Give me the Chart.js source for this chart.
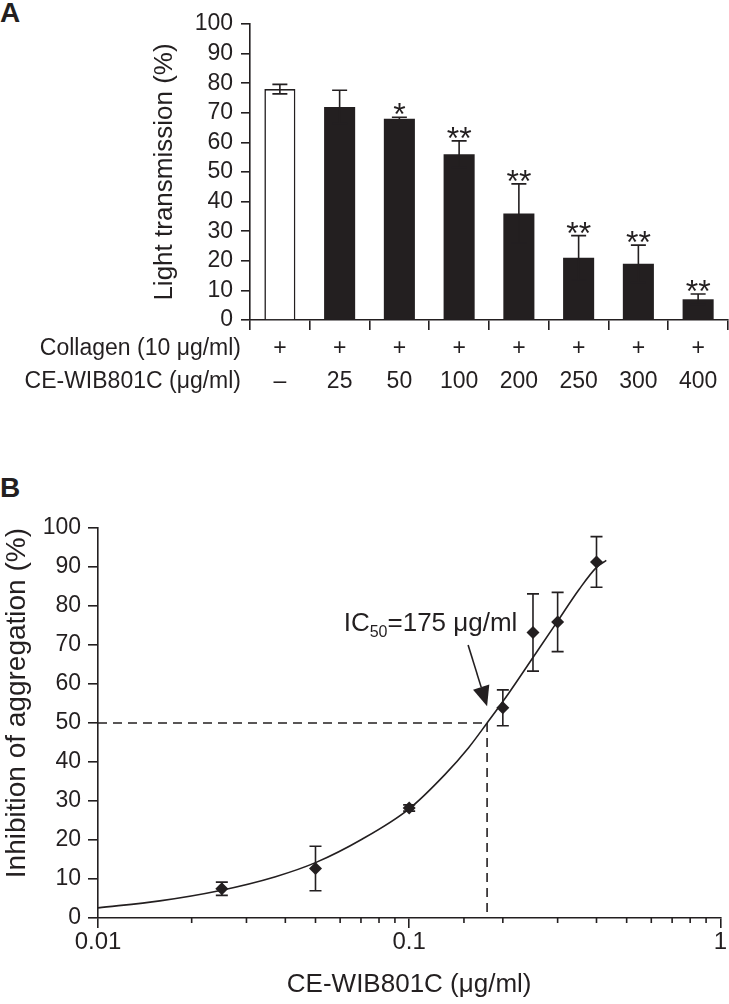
<!DOCTYPE html>
<html><head><meta charset="utf-8">
<script src="https://cdn.jsdelivr.net/npm/chart.js@4/dist/chart.umd.min.js"></script>
<style>
html,body{margin:0;padding:0;background:#fff;width:729px;height:1004px;overflow:hidden}
canvas{position:absolute;left:0}
#a{top:0}
#b{top:440px}
.panel{position:absolute;left:0;font:bold 28px 'Liberation Sans',Arial,sans-serif;color:#231f20}
</style></head><body>
<div class="panel" style="top:-3px">A</div>
<div class="panel" style="top:472px">B</div>
<canvas id="a" width="729" height="410"></canvas>
<canvas id="b" width="729" height="564"></canvas>
<script>
const FONT = "'Liberation Sans', Arial, sans-serif";
const INK = '#231f20';

// ---- Panel A data ----
const collagenRow = ['+', '+', '+', '+', '+', '+', '+', '+'];
const doseRow = ['\u2013', '25', '50', '100', '200', '250', '300', '400'];
const transmission = [78, 72, 68, 56, 36, 21, 19, 7];
const transmissionErr = [1.6, 5.6, 0.5, 4.5, 10, 7.5, 6.3, 1.8];
const significance = ['', '', '*', '**', '**', '**', '**', '**'];
const rowTitles = ['Collagen (10 \u03bcg/ml)', 'CE-WIB801C (\u03bcg/ml)'];
const yTicksA = [0, 100, 10];

// ---- Panel B data ----
const doseB = [0.025, 0.05, 0.1, 0.2, 0.25, 0.3, 0.4];
const inhibition = [7.5, 12.7, 28.2, 53.9, 73.2, 75.9, 91.3];
const inhibitionErr = [1.7, 5.7, 0.8, 4.6, 9.9, 7.6, 6.5];
const curveX = [0.01, 0.0158, 0.0245, 0.0372, 0.05, 0.0705, 0.1, 0.13, 0.155, 0.178, 0.21, 0.25, 0.297, 0.352, 0.4, 0.43];
const curveY = [2.6, 4.4, 7.0, 10.6, 14.2, 20.2, 28.0, 36.7, 43.6, 50, 57.9, 66.8, 75.6, 84.3, 89.9, 91.7];
const ic50 = 0.178;
const ic50Level = 50;
const ic50Text = ['IC', '50', '=175 \u03bcg/ml'];
const arrowFrom = [0.1547, 70];
const arrowTo = [0.178, 54.3];
const textAnchor = [0.0616, 73.5];

Chart.defaults.font.family = FONT;
Chart.defaults.color = INK;
Chart.defaults.animation = false;

// ---------- Chart A ----------
const errorBarsA = {
  id: 'errorBarsA',
  afterDatasetsDraw(chart) {
    const ctx = chart.ctx, ys = chart.scales.y;
    const meta = chart.getDatasetMeta(0);
    ctx.save();
    ctx.strokeStyle = INK; ctx.lineWidth = 1.6; ctx.fillStyle = INK;
    meta.data.forEach((bar, i) => {
      const x = bar.x;
      const yt = ys.getPixelForValue(transmission[i] + transmissionErr[i]);
      const yb = ys.getPixelForValue(transmission[i] - transmissionErr[i]);
      ctx.beginPath();
      ctx.moveTo(x, yt); ctx.lineTo(x, yb);
      ctx.moveTo(x - 7.5, yt); ctx.lineTo(x + 7.5, yt);
      ctx.moveTo(x - 7.5, yb); ctx.lineTo(x + 7.5, yb);
      ctx.stroke();
      const s = significance[i];
      if (s) {
        ctx.font = '32px ' + FONT;
        ctx.textAlign = 'center'; ctx.textBaseline = 'alphabetic';
        const n = s.length;
        for (let k = 0; k < n; k++) {
          const dx = (k - (n - 1) / 2) * 12.5;
          ctx.fillText('*', x + dx, yt + 8);
        }
      }
    });
    // row titles
    const xs = chart.scales.x;
    ctx.font = '23px ' + FONT;
    ctx.textAlign = 'right'; ctx.textBaseline = 'middle';
    const y0 = xs.top + 10 + 2 + 16.5;
    rowTitles.forEach((t, r) => ctx.fillText(t, 241, y0 + r * 33));
    ctx.restore();
  }
};

new Chart(document.getElementById('a'), {
  type: 'bar',
  data: {
    labels: collagenRow.map((c, i) => [c, doseRow[i]]),
    datasets: [{
      data: transmission,
      backgroundColor: transmission.map((v, i) => i === 0 ? '#ffffff' : INK),
      borderColor: INK,
      borderWidth: transmission.map((v, i) => i === 0 ? 1.6 : 0),
      categoryPercentage: 1,
      barPercentage: 0.52
    }]
  },
  options: {
    responsive: false,
    layout: { padding: { left: 0, right: 1, top: 24, bottom: 0 } },
    plugins: { legend: { display: false }, tooltip: { enabled: false } },
    scales: {
      x: {
        grid: { drawOnChartArea: false, drawTicks: true, tickLength: 10, color: INK, lineWidth: 1.6 },
        border: { display: true, color: INK, width: 1.6 },
        ticks: { font: { size: 23, lineHeight: 1.435 }, padding: 2, maxRotation: 0, autoSkip: false, color: INK },
        afterFit: s => { s.height = 90; }
      },
      y: {
        min: yTicksA[0], max: yTicksA[1],
        grid: { drawOnChartArea: false, drawTicks: true, tickLength: 9, color: INK, lineWidth: 1.6 },
        border: { display: true, color: INK, width: 1.6 },
        ticks: { stepSize: yTicksA[2], autoSkip: false, font: { size: 23, lineHeight: 1.0 }, padding: 8, color: INK },
        title: { display: true, text: 'Light transmission (%)', font: { size: 26, lineHeight: 1.2 }, padding: { top: 149, bottom: 0 }, color: INK },
        afterFit: s => { s.width = 250; }
      }
    }
  },
  plugins: [errorBarsA]
});

// ---------- Chart B ----------
const isPow10 = v => { const l = Math.log10(v); return Math.abs(l - Math.round(l)) < 1e-6; };

const extrasB = {
  id: 'extrasB',
  afterDatasetsDraw(chart) {
    const ctx = chart.ctx, xs = chart.scales.x, ys = chart.scales.y;
    ctx.save();
    ctx.strokeStyle = INK; ctx.fillStyle = INK; ctx.lineWidth = 1.6;
    // error bars
    doseB.forEach((d, i) => {
      const x = xs.getPixelForValue(d);
      const yt = ys.getPixelForValue(inhibition[i] + inhibitionErr[i]);
      const yb = ys.getPixelForValue(inhibition[i] - inhibitionErr[i]);
      ctx.beginPath();
      ctx.moveTo(x, yt); ctx.lineTo(x, yb);
      ctx.moveTo(x - 6, yt); ctx.lineTo(x + 6, yt);
      ctx.moveTo(x - 6, yb); ctx.lineTo(x + 6, yb);
      ctx.stroke();
    });
    // minor tick marks
    ctx.beginPath();
    xs.ticks.forEach(t => {
      if (!isPow10(t.value)) {
        const x = xs.getPixelForValue(t.value);
        ctx.moveTo(x, xs.top); ctx.lineTo(x, xs.top + 5);
      }
    });
    ctx.stroke();
    // arrow
    const ax = xs.getPixelForValue(arrowFrom[0]), ay = ys.getPixelForValue(arrowFrom[1]);
    const bx = xs.getPixelForValue(arrowTo[0]), by = ys.getPixelForValue(arrowTo[1]);
    const ang = Math.atan2(by - ay, bx - ax);
    const hl = 20, hw = 8.5;
    const hx = bx - hl * Math.cos(ang), hy = by - hl * Math.sin(ang);
    ctx.beginPath(); ctx.moveTo(ax, ay); ctx.lineTo(hx, hy); ctx.stroke();
    ctx.beginPath();
    ctx.moveTo(bx, by);
    ctx.lineTo(hx + hw * Math.sin(ang), hy - hw * Math.cos(ang));
    ctx.lineTo(hx - hw * Math.sin(ang), hy + hw * Math.cos(ang));
    ctx.closePath(); ctx.fill();
    // IC50 text
    let tx = xs.getPixelForValue(textAnchor[0]);
    const ty = ys.getPixelForValue(textAnchor[1]);
    ctx.textAlign = 'left'; ctx.textBaseline = 'alphabetic';
    ctx.font = '26px ' + FONT;
    ctx.fillText(ic50Text[0], tx, ty); tx += ctx.measureText(ic50Text[0]).width;
    ctx.font = '16px ' + FONT;
    ctx.fillText(ic50Text[1], tx, ty + 6); tx += ctx.measureText(ic50Text[1]).width;
    ctx.font = '26px ' + FONT;
    ctx.fillText(ic50Text[2], tx, ty);
    ctx.restore();
  }
};

new Chart(document.getElementById('b'), {
  type: 'scatter',
  data: {
    datasets: [
      {
        type: 'line',
        data: curveX.map((x, i) => ({ x, y: curveY[i] })),
        borderColor: INK, borderWidth: 1.6, pointRadius: 0,
        cubicInterpolationMode: 'monotone', fill: false
      },
      {
        type: 'line',
        data: [{ x: 0.01, y: ic50Level }, { x: ic50, y: ic50Level }],
        borderColor: INK, borderWidth: 1.6, borderDash: [9, 6], pointRadius: 0, fill: false
      },
      {
        type: 'line',
        data: [{ x: ic50, y: ic50Level }, { x: ic50, y: 0 }],
        borderColor: INK, borderWidth: 1.6, borderDash: [9, 6], pointRadius: 0, fill: false
      },
      {
        data: doseB.map((x, i) => ({ x, y: inhibition[i] })),
        pointStyle: 'rectRot', pointRadius: 6.5, backgroundColor: INK, borderColor: INK, borderWidth: 0
      }
    ]
  },
  options: {
    responsive: false,
    clip: false,
    layout: { padding: { left: 0, right: 6, top: 88, bottom: 0 } },
    plugins: { legend: { display: false }, tooltip: { enabled: false } },
    scales: {
      x: {
        type: 'logarithmic', min: 0.01, max: 1,
        grid: { drawOnChartArea: false, drawTicks: true, tickLength: 10, lineWidth: 1.6,
                tickColor: c => (c.tick && isPow10(c.tick.value)) ? INK : 'rgba(0,0,0,0)', color: INK },
        border: { display: true, color: INK, width: 1.6 },
        ticks: {
          autoSkip: false, maxRotation: 0, font: { size: 24, lineHeight: 1.0 }, padding: 2, color: INK,
          callback: v => isPow10(v) ? String(Number(v.toPrecision(3))) : ''
        },
        title: { display: true, text: 'CE-WIB801C (\u03bcg/ml)', font: { size: 26, lineHeight: 1.2 }, padding: { top: 0, bottom: 4 }, color: INK },
        afterFit: s => { s.height = 86; }
      },
      y: {
        min: 0, max: 100,
        grid: { drawOnChartArea: false, drawTicks: true, tickLength: 10, color: INK, lineWidth: 1.6 },
        border: { display: true, color: INK, width: 1.6 },
        ticks: { stepSize: 10, autoSkip: false, font: { size: 23, lineHeight: 1.0 }, padding: 7, color: INK },
        title: { display: true, text: 'Inhibition of aggregation (%)', align: 'end', font: { size: 28, lineHeight: 1.2 }, padding: { top: 0, bottom: 0 }, color: INK },
        afterFit: s => { s.width = 98; }
      }
    }
  },
  plugins: [extrasB]
});
</script>
</body></html>
